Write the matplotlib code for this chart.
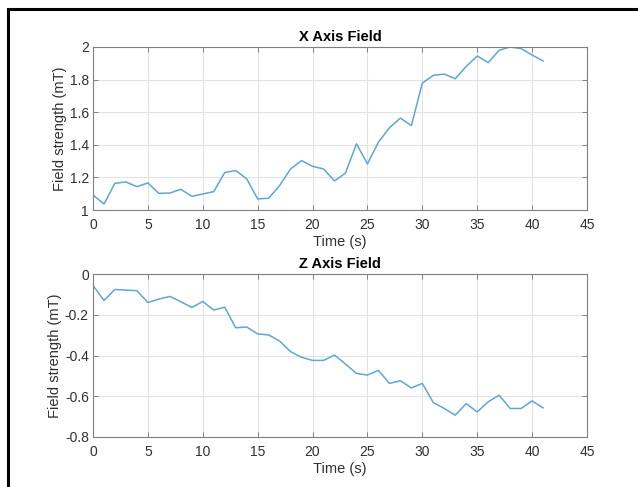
import matplotlib
matplotlib.use("Agg")
import matplotlib.pyplot as plt
from matplotlib.patches import Rectangle

plt.rcParams["font.family"] = ["Liberation Sans", "DejaVu Sans"]

# time samples (s)
t = list(range(0, 42))

# X axis field (mT)
bx = [1.092, 1.037, 1.164, 1.172, 1.143, 1.166, 1.102, 1.104, 1.127, 1.084,
      1.098, 1.113, 1.230, 1.242, 1.191, 1.068, 1.072, 1.150, 1.252, 1.303,
      1.268, 1.252, 1.178, 1.227, 1.406, 1.283, 1.416, 1.504, 1.564, 1.518,
      1.779, 1.826, 1.834, 1.805, 1.881, 1.945, 1.904, 1.980, 2.000, 1.990,
      1.951, 1.914]

# Z axis field (mT)
bz = [-0.056, -0.130, -0.076, -0.079, -0.082, -0.140, -0.123, -0.110, -0.136, -0.164,
      -0.135, -0.177, -0.163, -0.264, -0.260, -0.294, -0.299, -0.329, -0.381, -0.409,
      -0.424, -0.424, -0.398, -0.442, -0.488, -0.496, -0.473, -0.537, -0.524, -0.559,
      -0.537, -0.631, -0.660, -0.693, -0.636, -0.677, -0.627, -0.595, -0.660, -0.660,
      -0.623, -0.657]

xticks = [0, 5, 10, 15, 20, 25, 30, 35, 40, 45]
line_color = "#5ea7d2"
txt = "#303030"

fig = plt.figure(figsize=(6.38, 4.87), dpi=100)

# outer black frame (right/bottom edges fall outside the image)
fig.patches.append(Rectangle((8 / 638, -0.05), 1.2, 1 - 9 / 487 + 0.05,
                             transform=fig.transFigure, fill=False,
                             edgecolor="black", lw=2.2))

left, width, height = 93 / 638, 494 / 638, 163 / 487
ax1 = fig.add_axes([left, (487 - 210) / 487, width, height])
ax2 = fig.add_axes([left, (487 - 437) / 487, width, height])

panels = [
    (ax1, bx, (1, 2), [1, 1.2, 1.4, 1.6, 1.8, 2], ["1", "1.2", "1.4", "1.6", "1.8", "2"], "X Axis Field"),
    (ax2, bz, (-0.8, 0), [-0.8, -0.6, -0.4, -0.2, 0], ["-0.8", "-0.6", "-0.4", "-0.2", "0"], "Z Axis Field"),
]

for ax, y, ylim, yt, ytl, title in panels:
    ax.plot(t, y, color=line_color, lw=1.1)
    ax.set_xlim(0, 45)
    ax.set_ylim(*ylim)
    ax.set_xticks(xticks)
    ax.set_yticks(yt)
    ax.set_yticklabels(ytl)
    ax.grid(True, color="#e3e3e3", lw=0.8)
    ax.set_axisbelow(True)
    ax.tick_params(direction="in", top=True, right=True, length=3.5, width=0.7,
                   colors="#808080", labelcolor=txt, labelsize=10, pad=6)
    ax.tick_params(axis="y", pad=3)
    for s in ax.spines.values():
        s.set_color("#808080")
        s.set_linewidth(0.8)
    ax.set_xlabel("Time (s)", fontsize=10.5, color=txt, labelpad=2)
    ax.set_ylabel("Field strength (mT)", fontsize=10.5, color=txt, labelpad=2)
    ax.set_title(title, fontsize=10.5, fontweight="bold", color="black", pad=4)

fig.savefig("out.png", dpi=100)
